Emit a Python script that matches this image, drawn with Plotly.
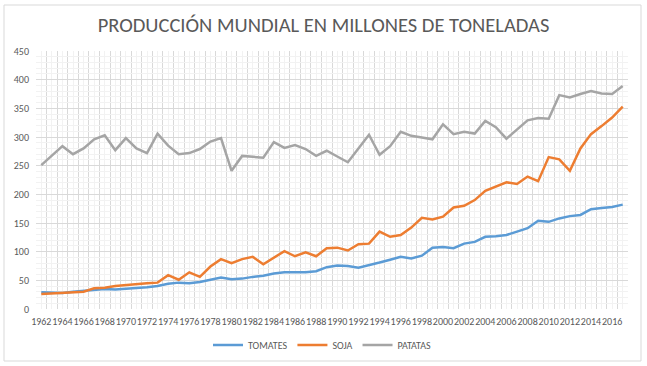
import plotly.graph_objects as go

years = list(range(1962, 2018))

tomates = [29, 28, 28, 30, 32, 33, 35, 34, 35, 37, 38, 40, 44, 46, 45, 47,
           51, 55, 52, 53, 56, 58, 62, 64, 64, 64, 66, 73, 76, 75, 72, 76,
           81, 86, 91, 88, 93, 107, 108, 106, 114, 117, 126, 127, 129, 135,
           141, 154, 152, 158, 162, 164, 174, 176, 178, 182]

soja = [26, 27, 28, 29, 30, 36, 37, 40, 42, 43, 45, 46, 59, 51, 64, 56,
        74, 87, 80, 87, 91, 78, 90, 101, 92, 99, 92, 106, 107, 102, 113, 114,
        135, 126, 129, 142, 159, 156, 161, 177, 180, 190, 206, 214, 221, 218,
        231, 223, 265, 261, 241, 280, 305, 319, 334, 353]

patatas = [251, 268, 284, 270, 280, 296, 303, 277, 298, 280, 272, 306, 285, 270,
           272, 279, 292, 298, 241, 267, 266, 264, 291, 281, 286, 279, 267, 276,
           266, 256, 280, 304, 269, 284, 309, 302, 299, 296, 322, 305, 309, 306,
           328, 317, 297, 313, 329, 333, 332, 373, 369, 375, 380, 376, 375, 389]

tick_labels = [str(y) if (y - 1962) % 2 == 0 else "" for y in years]

series = [("TOMATES", tomates, "#5B9BD5"),
          ("SOJA", soja, "#ED7D31"),
          ("PATATAS", patatas, "#A5A5A5")]

FONT = "Carlito, Lato, sans-serif"
TXT = "#595959"

fig = go.Figure()
for name, vals, col in series:
    fig.add_trace(go.Scatter(x=years, y=vals, mode="lines", name=name,
                             line=dict(color=col, width=2.5)))

W, H = 647, 366
L, R, T, B = 36, 19, 51, 57
pw, ph = W - L - R, H - T - B

def px_to_paper_x(px):
    return (px - L) / pw

def px_to_paper_y(py):
    return (H - B - py) / ph

fig.update_layout(
    width=W, height=H,
    margin=dict(l=L, r=R, t=T, b=B, autoexpand=False),
    paper_bgcolor="white", plot_bgcolor="white",
    font=dict(family=FONT, color=TXT, size=10),
    title=dict(text="PRODUCCIÓN MUNDIAL EN MILLONES DE TONELADAS",
               x=0.5, xanchor="center", xref="container",
               y=1 - 25 / H, yanchor="middle", yref="container",
               font=dict(family=FONT, size=20.5, color=TXT)),
    showlegend=True,
    legend=dict(orientation="h", x=px_to_paper_x(322), xanchor="center",
                y=px_to_paper_y(345), yanchor="middle",
                font=dict(size=10, color=TXT), itemwidth=30,
                traceorder="normal"),
    xaxis=dict(range=[1961.5, 2017.5], tickmode="array", tickvals=years,
               ticktext=tick_labels, showgrid=True, gridcolor="#F2F2F2",
               gridwidth=1, zeroline=False, showline=False, ticks="",
               tickangle=0, ticklabelstandoff=5, automargin=False,
               tickfont=dict(size=10, color=TXT),
               minor=dict(tickmode="linear", tick0=1961.5, dtick=1,
                          showgrid=True, gridcolor="#D9D9D9", gridwidth=1)),
    yaxis=dict(range=[0, 450], tickmode="linear", tick0=0, dtick=50,
               showgrid=True, gridcolor="#D9D9D9", gridwidth=1,
               zeroline=False, showline=False, ticks="",
               ticklabelstandoff=6, automargin=False,
               tickfont=dict(size=10, color=TXT),
               minor=dict(tickmode="linear", tick0=0, dtick=10,
                          showgrid=True, gridcolor="#F2F2F2", gridwidth=1)),
    shapes=[dict(type="rect", xref="paper", yref="paper",
                 x0=px_to_paper_x(4), x1=px_to_paper_x(641),
                 y0=px_to_paper_y(361), y1=px_to_paper_y(5),
                 line=dict(color="#D9D9D9", width=1), fillcolor="rgba(0,0,0,0)",
                 layer="below")],
)

fig.write_html("out.html",
               config={"displayModeBar": False},
               post_script="document.body.style.margin='0';document.body.style.padding='0';")
